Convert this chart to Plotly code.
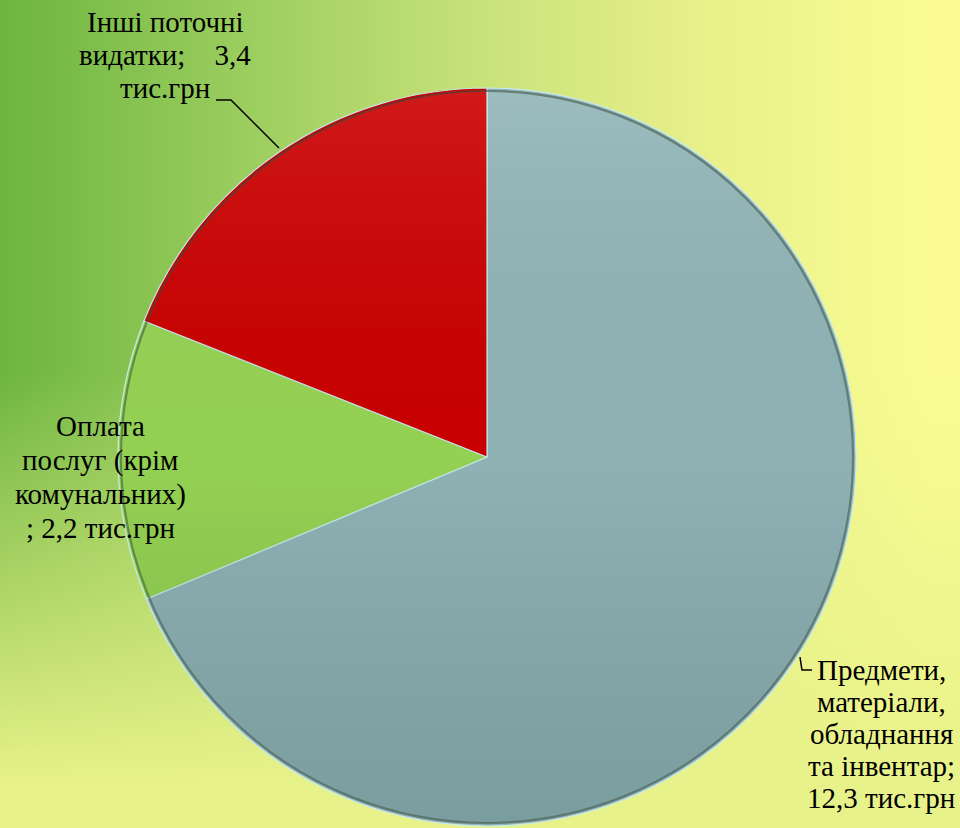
import base64
import plotly.graph_objects as go

labels = ["Предмети, матеріали, обладнання та інвентар", "Оплата послуг (крім комунальних)", "Інші поточні видатки"]
values = [12.3, 2.2, 3.4]
colors = ["#91B5B8", "#96D554", "#CC0000"]
label_lines = [
    ["Предмети,", "матеріали,", "обладнання", "та інвентар;", "12,3 тис.грн"],
    ["Оплата", "послуг (крім", "комунальних)", "; 2,2 тис.грн"],
    ["Інші поточні", "видатки;    3,4", "тис.грн"],
]

W, H = 960, 828
CX, CY, R = 487, 457, 369  # pie placement in pixels (styling only)


def uri(svg):
    return "data:image/svg+xml;base64," + base64.b64encode(svg.encode()).decode()


bg_svg = f"""<svg xmlns='http://www.w3.org/2000/svg' width='{W}' height='{H}' viewBox='0 0 {W} {H}' preserveAspectRatio='none'>
<defs>
<linearGradient id='h' x1='0' y1='0' x2='1' y2='0'>
<stop offset='0' stop-color='#6DB540'/>
<stop offset='0.25' stop-color='#9ACD5E'/>
<stop offset='0.5' stop-color='#C8E27A'/>
<stop offset='0.73' stop-color='#E8F08A'/>
<stop offset='0.97' stop-color='#FAFC92'/>
<stop offset='1' stop-color='#FAFC92'/>
</linearGradient>
<linearGradient id='v' x1='0' y1='0' x2='0' y2='1'>
<stop offset='0' stop-color='#E8F28A' stop-opacity='0'/>
<stop offset='0.45' stop-color='#E8F28A' stop-opacity='0'/>
<stop offset='0.95' stop-color='#E8F28A' stop-opacity='1'/>
<stop offset='1' stop-color='#E8F28A' stop-opacity='1'/>
</linearGradient>
</defs>
<rect width='{W}' height='{H}' fill='url(#h)'/>
<rect width='{W}' height='{H}' fill='url(#v)'/>
</svg>"""

shade_svg = """<svg xmlns='http://www.w3.org/2000/svg' width='200' height='200' viewBox='0 0 200 200'>
<defs><linearGradient id='s' x1='0' y1='0' x2='0' y2='1'>
<stop offset='0' stop-color='#FFFFFF' stop-opacity='0.10'/>
<stop offset='0.5' stop-color='#000000' stop-opacity='0.02'/>
<stop offset='1' stop-color='#002020' stop-opacity='0.16'/>
</linearGradient></defs>
<circle cx='100' cy='100' r='99.2' fill='url(#s)' stroke='#3C5040' stroke-opacity='0.55' stroke-width='0.6'/>
</svg>"""

fig = go.Figure()
fig.add_trace(go.Pie(
    labels=labels,
    values=values,
    sort=False,
    direction="clockwise",
    rotation=0,
    textinfo="none",
    hoverinfo="label+value",
    marker=dict(colors=colors, line=dict(color="rgba(200,235,240,0.95)", width=1.2)),
    domain=dict(x=[(CX - R) / W, (CX + R) / W], y=[1 - (CY + R) / H, 1 - (CY - R) / H]),
    showlegend=False,
))

font = dict(family="Liberation Serif, Times New Roman, serif", size=29, color="#000000")


def px(x, y):
    return x / W, 1 - y / H


# label block placement (pixels): centre x, centre y, line spacing
blocks = [(881, 734, 32), (100, 477, 34), (165, 55, 33)]
for lines, (bx, by, sp) in zip(label_lines, blocks):
    n = len(lines)
    for i, line in enumerate(lines):
        ax, ay = px(bx, by + (i - (n - 1) / 2) * sp)
        fig.add_annotation(x=ax, y=ay, xref="paper", yref="paper", text=line, showarrow=False,
                           font=font, align="center", xanchor="center", yanchor="middle")


def path(points):
    s = ""
    for i, (x, y) in enumerate(points):
        px_, py_ = px(x, y)
        s += ("M" if i == 0 else " L") + f" {px_:.4f} {py_:.4f}"
    return s


leaders = [
    [(216, 100), (231, 100), (279, 148)],
    [(800, 657), (802, 670), (812, 670)],
]
for pts in leaders:
    fig.add_shape(type="path", xref="paper", yref="paper", path=path(pts),
                  line=dict(color="#000000", width=1.5))

fig.update_layout(
    width=W, height=H,
    margin=dict(l=0, r=0, t=0, b=0),
    paper_bgcolor="#F9FB8F",
    plot_bgcolor="rgba(0,0,0,0)",
    images=[
        dict(source=uri(bg_svg), xref="paper", yref="paper", x=0, y=1, sizex=1, sizey=1,
             xanchor="left", yanchor="top", sizing="stretch", layer="below"),
        dict(source=uri(shade_svg), xref="paper", yref="paper",
             x=(CX - R) / W, y=1 - (CY - R) / H, sizex=2 * R / W, sizey=2 * R / H,
             xanchor="left", yanchor="top", sizing="stretch", layer="above"),
    ],
)

fig.write_html("out.html", config={"displayModeBar": False},
               post_script="document.body.style.margin='0';document.body.style.padding='0';")
